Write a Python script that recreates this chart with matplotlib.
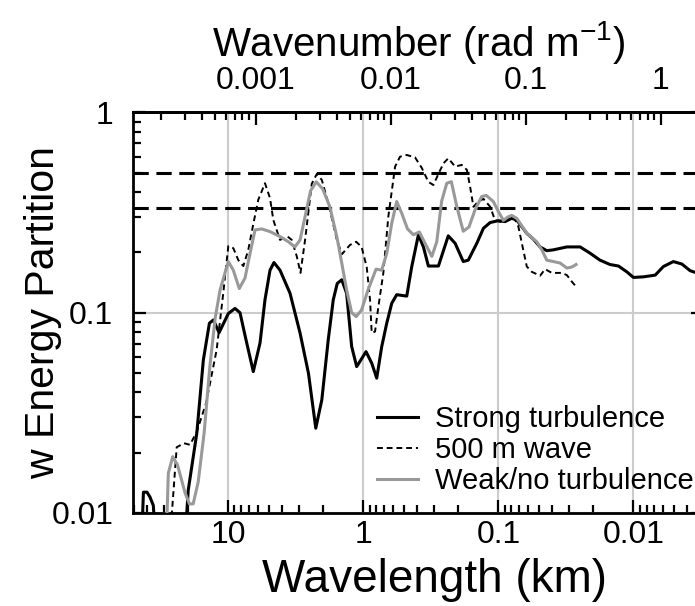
import numpy as np
import matplotlib.pyplot as plt
from matplotlib.ticker import FixedLocator, LogLocator, FuncFormatter, NullFormatter

plt.rcParams['font.family'] = ['Liberation Sans', 'DejaVu Sans']
plt.rcParams['mathtext.fontset'] = 'custom'
plt.rcParams['mathtext.rm'] = 'Liberation Sans'

nan = np.nan

# wavelength (km) vs w energy partition
strong_lam = [43.6, 42.5, 40, 38, 35.9, 34.9, nan, 20.6, 19.8, 17.1, 15.3, 13.8, 12.9, 11.7,
              10, 8.92, 8.19, 7.39, 6.53, 5.82, 5.35, 4.91, 4.59, 4.14, 3.49, 2.94, 2.55, 2.25,
              2.03, 1.82, 1.67, 1.56, 1.445, 1.33, 1.22, 1.12, 0.955, 0.867, 0.796, 0.731, 0.671,
              0.616, 0.566, 0.477, 0.438, 0.391, 0.359, 0.330, 0.278, 0.235, 0.209, 0.182, 0.167,
              0.1445, 0.129, 0.115, 0.1, 0.0892, 0.0796, 0.0731, 0.0671, 0.0616, 0.0551, 0.0491,
              0.0438, 0.0391, 0.0311, 0.0248, 0.0209, 0.0177, 0.0149, 0.0129, 0.0112, 0.01,
              0.00843, 0.0069, 0.006, 0.00506, 0.00438, 0.0038, 0.0032]
strong_val = [0.008, 0.0127, 0.0127, 0.012, 0.0109, 0.008, nan, 0.0086, 0.013, 0.0251, 0.0581,
              0.0886, 0.092, 0.0795, 0.099, 0.105, 0.1, 0.0731, 0.0508, 0.0707, 0.116, 0.163,
              0.178, 0.163, 0.125, 0.079, 0.0499, 0.0265, 0.0367, 0.0731, 0.116, 0.140, 0.146,
              0.125, 0.0677, 0.0538, 0.0639, 0.056, 0.0471, 0.0677, 0.0886, 0.1115, 0.123, 0.121,
              0.170, 0.245, 0.213, 0.171, 0.171, 0.242, 0.222, 0.180, 0.183, 0.222, 0.264, 0.282,
              0.288, 0.285, 0.296, 0.290, 0.269, 0.249, 0.233, 0.213, 0.204, 0.206, 0.213, 0.213,
              0.198, 0.183, 0.174, 0.171, 0.160, 0.150, 0.151, 0.154, 0.170, 0.180, 0.175, 0.162,
              0.156]

wave_lam = [26.6, 24.1, 21.3, 19.2, 17.1, 14.6, 12.2, 10.9, 10, 9.18, 8.43, 7.74, 7.11, 6.53,
            6.0, 5.35, 4.91, 4.64, 4.14, 3.64, 3.39, 3.11, 2.92, 2.70, 2.41, 2.21, 2.03, 1.82,
            1.57, 1.44, 1.255, 1.13, 1.03, 0.944, 0.892, 0.867, 0.819, 0.774, 0.711, 0.653,
            0.582, 0.535, 0.477, 0.414, 0.369, 0.330, 0.303, 0.278, 0.255, 0.235, 0.209, 0.187,
            0.171, 0.162, 0.153, 0.141, 0.129, 0.115, 0.106, 0.0971, 0.0918, 0.0774, 0.0711,
            0.0671, 0.0616, 0.0566, 0.0491, 0.0451, 0.0402, 0.0339, 0.0311, 0.0286, 0.0266]
wave_val = [0.0086, 0.0213, 0.0223, 0.0219, 0.0255, 0.0354, 0.0652, 0.125, 0.215, 0.210, 0.183,
            0.171, 0.206, 0.277, 0.366, 0.443, 0.373, 0.290, 0.231, 0.240, 0.231, 0.191, 0.158,
            0.231, 0.440, 0.493, 0.460, 0.353, 0.231, 0.196, 0.218, 0.226, 0.213, 0.169, 0.1158,
            0.0793, 0.0805, 0.107, 0.158, 0.302, 0.536, 0.601, 0.613, 0.596, 0.528, 0.450, 0.434,
            0.493, 0.557, 0.590, 0.536, 0.547, 0.516, 0.426, 0.338, 0.359, 0.370, 0.338, 0.290,
            0.284, 0.285, 0.302, 0.269, 0.223, 0.170, 0.160, 0.153, 0.165, 0.158, 0.158, 0.154,
            0.143, 0.135]

weak_lam = [28.6, 27.8, 25.8, 23.8, 20.9, 19.4, 18.2, 16.7, 15.1, 13.7, 12.5, 11.5, 10, 9.18,
            8.29, 7.52, 6.9, 6.34, 5.66, 4.91, 4.14, 3.59, 3.21, 2.94, 2.70, 2.46, 2.23, 2.0,
            1.77, 1.57, 1.445, 1.33, 1.22, 1.13, 1.03, 0.923, 0.805, 0.731, 0.671, 0.616, 0.566,
            0.52, 0.471, 0.426, 0.385, 0.349, 0.311, 0.286, 0.263, 0.241, 0.223, 0.203, 0.182,
            0.165, 0.149, 0.133, 0.123, 0.109, 0.1, 0.0918, 0.0847, 0.0796, 0.0731, 0.0616,
            0.052, 0.0477, 0.0438, 0.0391, 0.0349, 0.0311, 0.0286, 0.0266]
weak_val = [0.0086, 0.0158, 0.0191, 0.0174, 0.0126, 0.0111, 0.0111, 0.0143, 0.0251, 0.0538,
            0.0942, 0.130, 0.180, 0.163, 0.132, 0.149, 0.198, 0.259, 0.262, 0.254, 0.240, 0.226,
            0.213, 0.231, 0.302, 0.406, 0.450, 0.415, 0.338, 0.239, 0.177, 0.130, 0.1, 0.0956,
            0.1033, 0.130, 0.165, 0.163, 0.198, 0.280, 0.359, 0.314, 0.262, 0.245, 0.253, 0.222,
            0.191, 0.226, 0.361, 0.443, 0.451, 0.338, 0.255, 0.268, 0.326, 0.380, 0.385, 0.359,
            0.320, 0.289, 0.301, 0.306, 0.296, 0.249, 0.226, 0.206, 0.183, 0.180, 0.177, 0.167,
            0.169, 0.174]

ref_levels = [1 / 2, 1 / 3]
labels = ['Strong turbulence', '500 m wave', 'Weak/no turbulence']
k_ticks = [0.001, 0.01, 0.1, 1]


def lam_to_k(lam):
    lam = np.asarray(lam, dtype=float)
    with np.errstate(divide='ignore'):
        return 2 * np.pi / (lam * 1000.0)


fig = plt.figure(figsize=(6.95, 6.06), dpi=100)
ax = fig.add_axes([0.191, 0.1535, 0.822, 0.661])

ax.plot(strong_lam, strong_val, color='black', lw=2.2, label=labels[0], zorder=3)
ax.plot(wave_lam, wave_val, color='black', lw=1.4, ls=(0, (3, 2)), label=labels[1], zorder=3)
ax.plot(weak_lam, weak_val, color='#999999', lw=2.2, label=labels[2], zorder=4)
for r in ref_levels:
    ax.axhline(r, color='black', lw=2.2, ls=(0, (5, 2.5)), zorder=2)

ax.set_xscale('log')
ax.set_yscale('log')
ax.set_xlim(51, 0.003)
ax.set_ylim(0.01, 1)

fmt = FuncFormatter(lambda v, p: '%g' % v)
ax.xaxis.set_major_formatter(fmt)
ax.yaxis.set_major_formatter(fmt)
ax.xaxis.set_minor_formatter(NullFormatter())
ax.yaxis.set_minor_formatter(NullFormatter())
ax.grid(True, which='major', color='#cccccc', lw=1.5, zorder=1)

for s in ax.spines.values():
    s.set_linewidth(2.0)
ax.tick_params(which='both', direction='in', width=1.6, labelsize=23, top=False, right=True)
ax.tick_params(which='major', length=9.5)
ax.tick_params(which='minor', length=5.8)
ax.tick_params(axis='x', pad=5)
ax.tick_params(axis='y', pad=14)

ax.set_xlabel('Wavelength (km)', fontsize=33, labelpad=6)
ax.xaxis.label.set_x(0.529)
ax.set_ylabel('w Energy Partition', fontsize=29.5, labelpad=-8)

sec = ax.secondary_xaxis('top', functions=(lam_to_k, lam_to_k))
sec.xaxis.set_major_locator(FixedLocator(k_ticks))
sec.xaxis.set_minor_locator(LogLocator(base=10, subs=np.arange(2, 10)))
sec.xaxis.set_major_formatter(fmt)
sec.xaxis.set_minor_formatter(NullFormatter())
sec.spines['top'].set_linewidth(2.0)
sec.tick_params(which='both', direction='in', width=1.6, labelsize=23, pad=12)
sec.tick_params(which='major', length=9.5)
sec.tick_params(which='minor', length=5.8)
sec.set_xlabel('Wavenumber (rad m$^{\\mathregular{-1}}$)', fontsize=29, labelpad=7)

ax.legend(loc='upper left', bbox_to_anchor=(377 / 695, 1 - 405 / 606),
          bbox_transform=fig.transFigure, frameon=False, fontsize=21,
          handlelength=1.4, handletextpad=0.6, labelspacing=0.1,
          borderpad=0, borderaxespad=0)

fig.savefig('out.png', dpi=100)
